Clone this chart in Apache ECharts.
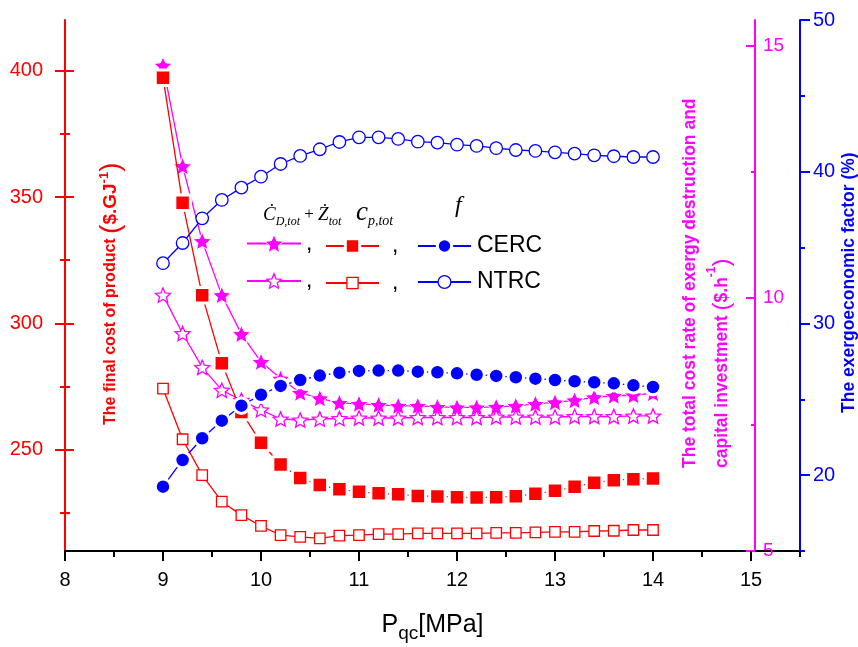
<!DOCTYPE html>
<html>
<head>
<meta charset="utf-8">
<script src="https://cdn.jsdelivr.net/npm/echarts@6/dist/echarts.min.js"></script>
<style>
html, body { margin: 0; padding: 0; background: #fff; }
#chart { width: 858px; height: 647px; }
</style>
</head>
<body>
<div id="chart"></div>
<script>
// Gas-cooler pressure (MPa)
const pressure = [9.0, 9.2, 9.4, 9.6, 9.8, 10.0, 10.2, 10.4, 10.6, 10.8, 11.0, 11.2, 11.4,
  11.6, 11.8, 12.0, 12.2, 12.4, 12.6, 12.8, 13.0, 13.2, 13.4, 13.6, 13.8, 14.0];

// Total cost rate of exergy destruction and capital investment ($/h)
const costRateCERC = [14.60, 12.61, 11.13, 10.06, 9.29, 8.74, 8.41, 8.13, 8.02, 7.93, 7.91, 7.89, 7.87,
  7.87, 7.85, 7.84, 7.84, 7.85, 7.87, 7.91, 7.94, 7.98, 8.04, 8.07, 8.08, 8.12];
const costRateNTRC = [10.06, 9.30, 8.63, 8.18, 7.98, 7.79, 7.61, 7.59, 7.61, 7.62, 7.63, 7.63, 7.63,
  7.64, 7.64, 7.64, 7.64, 7.65, 7.65, 7.65, 7.65, 7.66, 7.66, 7.66, 7.67, 7.67];

// Final cost of product ($/GJ)
const productCostCERC = [397.2, 347.7, 311.1, 284.3, 265.0, 252.8, 244.2, 238.9, 236.1, 234.4, 233.4, 232.8, 232.4,
  231.8, 231.6, 231.3, 231.2, 231.3, 231.7, 232.6, 233.8, 235.4, 237.0, 238.0, 238.4, 238.7];
const productCostNTRC = [274.2, 254.2, 240.0, 229.5, 224.2, 219.9, 216.3, 215.6, 215.0, 216.1, 216.3, 216.7, 216.7,
  217.0, 217.0, 217.0, 217.0, 217.2, 217.2, 217.4, 217.6, 217.6, 217.9, 218.0, 218.3, 218.3];

// Exergoeconomic factor (%)
const exergoFactorCERC = [19.24, 21.00, 22.43, 23.59, 24.58, 25.30, 25.88, 26.27, 26.56, 26.75, 26.87, 26.89, 26.89,
  26.82, 26.78, 26.71, 26.62, 26.54, 26.45, 26.36, 26.27, 26.19, 26.12, 26.05, 25.92, 25.81];
const exergoFactorNTRC = [33.97, 35.30, 36.93, 38.14, 38.95, 39.67, 40.51, 41.04, 41.48, 41.96, 42.27, 42.27, 42.16,
  41.98, 41.92, 41.78, 41.70, 41.55, 41.43, 41.37, 41.28, 41.19, 41.08, 41.02, 40.97, 40.97];

// Tick positions
const xMajorTicks = [8, 9, 10, 11, 12, 13, 14, 15];
const xMinorTicks = [8.5, 9.5, 10.5, 11.5, 12.5, 13.5, 14.5, 15.5];
const costTicks = [250, 300, 350, 400];
const costMinorTicks = [225, 275, 325, 375];
const rateTicks = [5, 10, 15];
const rateMinorTicks = [7.5, 12.5];
const factorTicks = [20, 30, 40, 50];
const factorMinorTicks = [15, 25, 35, 45];

const RED = '#ff0000';
const MAGENTA = '#ff00ff';
const BLUE = '#0000ff';
const SANS = "'Liberation Sans', Arial, sans-serif";
const SERIF = "'Liberation Serif', 'Times New Roman', serif";

// five-pointed star marker as an SVG path
const STAR = (function () {
  const pts = [];
  for (let k = 0; k < 10; k++) {
    const a = -Math.PI / 2 + k * Math.PI / 5;
    const r = k % 2 === 0 ? 50 : 23;
    pts.push((50 + r * Math.cos(a)).toFixed(2) + ' ' + (50 + r * Math.sin(a)).toFixed(2));
  }
  return 'path://M' + pts.join(' L') + ' Z';
})();

const zip = (ys) => pressure.map((x, i) => [x, ys[i]]);

// helper axis carrying only tick marks (no line, no labels)
function tickAxis(position, offset, min, max, values, length, inside, color) {
  return {
    type: 'value', position, offset, min, max,
    axisLine: { show: false, onZero: false },
    axisTick: { show: true, inside, customValues: values, length, lineStyle: { color, width: 2 } },
    axisLabel: { show: false },
    splitLine: { show: false }
  };
}

function lineSeries(name, yAxisIndex, values, color, symbol, size, filled, halo, z) {
  return {
    name, type: 'line', xAxisIndex: 0, yAxisIndex, z,
    data: zip(values),
    symbol, symbolSize: size, symbolKeepAspect: true, showSymbol: true,
    lineStyle: { color, width: 1.3 },
    itemStyle: filled
      ? { color, borderColor: '#ffffff', borderWidth: halo, borderJoin: 'round' }
      : { color: '#ffffff', borderColor: color, borderWidth: 1.3 },
    emphasis: { disabled: true },
    animation: false
  };
}

function legendItem(name, left, centerY, itemWidth, itemHeight, label, textPad) {
  return {
    show: true, orient: 'horizontal', left, top: centerY - itemHeight / 2,
    padding: 0, itemGap: 0, itemWidth, itemHeight, selectedMode: false,
    data: [name],
    itemStyle: { borderWidth: 'inherit' },
    formatter: () => label,
    textStyle: { color: '#000', fontSize: 23, fontFamily: SANS, padding: [0, 0, 0, textPad] }
  };
}

const chart = echarts.init(document.getElementById('chart'), null, { renderer: 'canvas' });

chart.setOption({
  backgroundColor: '#ffffff',
  animation: false,
  grid: { left: 65, right: 58, top: 20, bottom: 96, containLabel: false, outerBoundsMode: 'none' },
  xAxis: [
    {
      type: 'value', min: 8, max: 15.5,
      axisLine: { onZero: false, lineStyle: { color: '#000', width: 2 } },
      axisTick: { show: true, customValues: xMajorTicks, length: 10, lineStyle: { color: '#000', width: 2 } },
      axisLabel: { customValues: xMajorTicks, color: '#000', fontSize: 20, fontFamily: SANS, margin: 19 },
      splitLine: { show: false },
      name: '{p|P}{s|qc}{p|[MPa]}',
      nameLocation: 'middle', nameGap: 56,
      nameTextStyle: {
        rich: {
          p: { fontSize: 25, fontFamily: SANS, color: '#000', lineHeight: 36, verticalAlign: 'middle' },
          s: { fontSize: 19, fontFamily: SANS, color: '#000', lineHeight: 19, verticalAlign: 'bottom' }
        }
      }
    },
    {
      type: 'value', min: 8, max: 15.5, position: 'bottom',
      axisLine: { show: false, onZero: false },
      axisTick: { show: true, customValues: xMinorTicks, length: 6, lineStyle: { color: '#000', width: 2 } },
      axisLabel: { show: false },
      splitLine: { show: false }
    }
  ],
  yAxis: [
    // 0: final cost of product
    {
      type: 'value', position: 'left', offset: 0, min: 210, max: 420,
      axisLine: { show: true, onZero: false, lineStyle: { color: RED, width: 2 } },
      axisTick: { show: false },
      axisLabel: { customValues: costTicks, color: RED, fontSize: 20, fontFamily: SANS, margin: 22 },
      splitLine: { show: false }
    },
    tickAxis('left', -9, 210, 420, costTicks, 19, false, RED),
    tickAxis('left', -5, 210, 420, costMinorTicks, 10, false, RED),
    // 3: total cost rate
    {
      type: 'value', position: 'right', offset: -45, min: 5, max: 15.5,
      axisLine: { show: true, onZero: false, lineStyle: { color: MAGENTA, width: 2 } },
      axisTick: { show: true, inside: true, customValues: rateTicks, length: 9, lineStyle: { color: MAGENTA, width: 2 } },
      axisLabel: { customValues: rateTicks, color: MAGENTA, fontSize: 19, fontFamily: SANS, margin: 8 },
      splitLine: { show: false }
    },
    tickAxis('right', -45, 5, 15.5, rateMinorTicks, 4, true, MAGENTA),
    // 5: exergoeconomic factor
    {
      type: 'value', position: 'right', offset: 0, min: 15, max: 50,
      axisLine: { show: true, onZero: false, lineStyle: { color: BLUE, width: 2 } },
      axisTick: { show: true, inside: false, customValues: factorTicks, length: 10, lineStyle: { color: BLUE, width: 2 } },
      axisLabel: { customValues: factorTicks, color: BLUE, fontSize: 20, fontFamily: SANS, margin: 13 },
      splitLine: { show: false }
    },
    tickAxis('right', 0, 15, 50, factorMinorTicks, 5, false, BLUE)
  ],
  legend: [
    legendItem('Cost rate CERC', 246, 243.5, 54, 23, ',', 0),
    legendItem('Product cost CERC', 325, 243.5, 53, 18, ',', 8),
    legendItem('Exergoeconomic factor CERC', 417, 243.5, 53, 18, 'CERC', 1),
    legendItem('Cost rate NTRC', 246, 278.5, 54, 18, ',', 0),
    legendItem('Product cost NTRC', 325, 278.5, 53, 14, ',', 8),
    legendItem('Exergoeconomic factor NTRC', 417, 278.5, 53, 16, 'NTRC', 1)
  ],
  series: [
    lineSeries('Cost rate CERC', 3, costRateCERC, MAGENTA, STAR, 18.5, true, 1, 2),
    lineSeries('Cost rate NTRC', 3, costRateNTRC, MAGENTA, STAR, 15, false, 0, 2),
    lineSeries('Product cost CERC', 0, productCostCERC, RED, 'rect', 15.5, true, 3, 3),
    lineSeries('Product cost NTRC', 0, productCostNTRC, RED, 'rect', 10.5, false, 0, 3),
    lineSeries('Exergoeconomic factor CERC', 5, exergoFactorCERC, BLUE, 'circle', 15.5, true, 3, 4),
    lineSeries('Exergoeconomic factor NTRC', 5, exergoFactorNTRC, BLUE, 'circle', 12.5, false, 0, 4)
  ],
  graphic: [
    // y-axis titles (rotated, reading bottom to top)
    {
      type: 'text', x: 111, y: 425, rotation: Math.PI / 2,
      style: {
        text: '{t|The final cost of product }{p|(}{g|$.GJ}{u|-1}{p|)}',
        align: 'left', textAlign: 'left', verticalAlign: 'middle', textVerticalAlign: 'middle',
        rich: {
          t: { fontSize: 16, fontWeight: 'bold', fontFamily: SANS, fill: RED, lineHeight: 26 },
          g: { fontSize: 19, fontWeight: 'bold', fontFamily: SANS, fill: RED, lineHeight: 26 },
          p: { fontSize: 28, fontFamily: SANS, fill: RED, lineHeight: 26 },
          u: { fontSize: 13, fontWeight: 'bold', fontFamily: SANS, fill: RED, lineHeight: 13, verticalAlign: 'top' }
        }
      }
    },
    {
      type: 'text', x: 706, y: 468, rotation: Math.PI / 2,
      style: {
        text: '{t|The total cost rate of exergy destruction and}\n{t|capital investment }{p|(}{t|$.h}{u|-1}{p|)}',
        align: 'left', textAlign: 'left', verticalAlign: 'middle', textVerticalAlign: 'middle',
        rich: {
          t: { fontSize: 17.5, fontWeight: 'bold', fontFamily: SANS, fill: MAGENTA, lineHeight: 32 },
          p: { fontSize: 24, fontFamily: SANS, fill: MAGENTA, lineHeight: 32 },
          u: { fontSize: 12, fontWeight: 'bold', fontFamily: SANS, fill: MAGENTA, lineHeight: 20, verticalAlign: 'top' }
        }
      }
    },
    {
      type: 'text', x: 849, y: 413, rotation: Math.PI / 2,
      style: {
        text: 'The exergoeconomic factor (%)',
        align: 'left', textAlign: 'left', verticalAlign: 'middle', textVerticalAlign: 'middle',
        font: 'bold 17.5px ' + SANS, fill: BLUE
      }
    },
    // legend column headings
    {
      type: 'text', x: 263, y: 215,
      style: {
        text: '{m|Ċ}{s|D,tot}{o| + }{m|Ż}{s|tot}',
        align: 'left', textAlign: 'left', verticalAlign: 'middle', textVerticalAlign: 'middle',
        rich: {
          m: { fontSize: 19, fontStyle: 'italic', fontFamily: SERIF, fill: '#000', lineHeight: 25 },
          o: { fontSize: 17, fontFamily: SERIF, fill: '#000', lineHeight: 25 },
          s: { fontSize: 12, fontStyle: 'italic', fontFamily: SERIF, fill: '#000', lineHeight: 12, verticalAlign: 'bottom' }
        }
      }
    },
    {
      type: 'text', x: 356, y: 213,
      style: {
        text: '{m|c}{s|p,tot}',
        align: 'left', textAlign: 'left', verticalAlign: 'middle', textVerticalAlign: 'middle',
        rich: {
          m: { fontSize: 27, fontStyle: 'italic', fontFamily: SERIF, fill: '#000', lineHeight: 30 },
          s: { fontSize: 14, fontStyle: 'italic', fontFamily: SERIF, fill: '#000', lineHeight: 20, verticalAlign: 'bottom' }
        }
      }
    },
    {
      type: 'text', x: 455, y: 206,
      style: {
        text: 'f', align: 'left', textAlign: 'left', verticalAlign: 'middle', textVerticalAlign: 'middle',
        font: 'italic 24px ' + SERIF, fill: '#000'
      }
    }
  ]
});
</script>
</body>
</html>
